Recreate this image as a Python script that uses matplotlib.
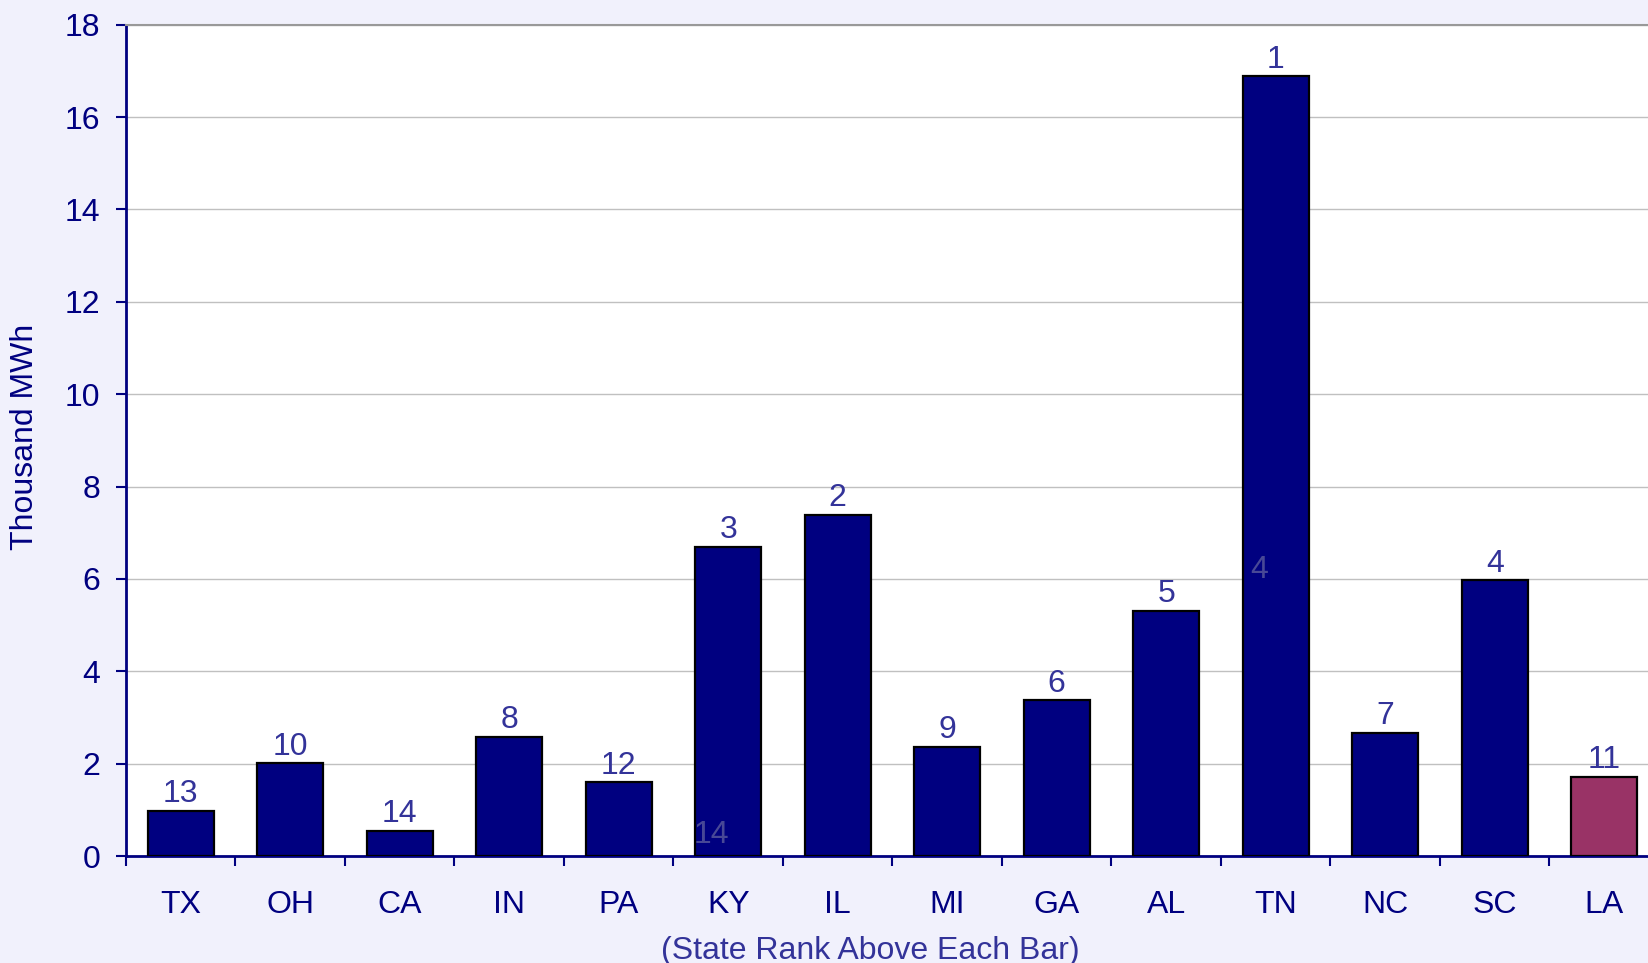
import matplotlib
matplotlib.use("Agg")
import matplotlib.pyplot as plt
import numpy as np

states = ['TX', 'OH', 'CA', 'IN', 'PA', 'KY', 'IL', 'MI', 'GA', 'AL', 'TN', 'NC', 'SC', 'LA']
values = [0.98, 2.01, 0.55, 2.58, 1.60, 6.70, 7.39, 2.37, 3.38, 5.31, 16.89, 2.67, 5.97, 1.72]
ranks  = ['13', '10', '14', '8', '12', '3', '2', '9', '6', '5', '1', '7', '4', '11']
# stray labels left over in the source chart (state index, value, text)
stray_idx  = [5, 10]
stray_val  = [0.45, 6.2]
stray_text = ['14', '4']

NAVY = '#000080'
LABEL = '#333399'
FS = 23
plt.rcParams['font.family'] = ['Liberation Sans', 'DejaVu Sans']

fig = plt.figure(figsize=(16.48, 9.63), dpi=100, facecolor='#F1F1FC')
ax = fig.add_axes([126/1648, 107/963, 1533/1648, 831.3/963])
ax.set_facecolor('white')

x = np.arange(len(states))
colors = [NAVY] * (len(states) - 1) + ['#993366']
ax.bar(x, values, width=0.6, color=colors, edgecolor='black', linewidth=1.6, zorder=3)

for xi, v, r in zip(x, values, ranks):
    ax.annotate(r, (xi, v), xytext=(0, 1), textcoords='offset points',
                ha='center', va='bottom', fontsize=FS, color=LABEL, zorder=4)

for i, v, t in zip(stray_idx, stray_val, stray_text):
    ax.text(i - 0.15, v, t, ha='center', va='center', fontsize=FS,
            color='#55559a', alpha=0.85, zorder=4)

ax.set_xlim(-0.5, len(states) - 0.5)
ax.set_ylim(0, 18)
ax.set_yticks(np.arange(0, 19, 2))
ax.yaxis.grid(True, color='#C0C0C0', linewidth=1.0, zorder=0)
ax.set_axisbelow(True)

# category boundaries get the ticks, centres get the labels
ax.set_xticks(np.arange(-0.5, len(states), 1.0))
ax.set_xticklabels([])
ax.set_xticks(x, minor=True)
ax.set_xticklabels(states, minor=True)
ax.tick_params(axis='x', which='major', direction='out', length=7.5, width=1.5, color=NAVY)
ax.tick_params(axis='x', which='minor', length=0, pad=24.5, labelsize=FS, labelcolor=NAVY)
ax.tick_params(axis='y', direction='out', length=7.5, width=1.5, color=NAVY,
               labelsize=FS, labelcolor=NAVY, pad=11)

for side in ['left', 'bottom']:
    ax.spines[side].set_color(NAVY)
    ax.spines[side].set_linewidth(2)
ax.spines['right'].set_visible(False)
ax.spines['top'].set_color('#999999')
ax.spines['top'].set_linewidth(1.5)

fig.text(25/1648, 1 - 437/963, 'Thousand MWh', rotation=90, ha='center', va='center',
         fontsize=FS, color=NAVY)
fig.text(870/1648, 1 - 951/963, '(State Rank Above Each Bar)', ha='center', va='center',
         fontsize=FS, color=LABEL)

fig.savefig('out.png', dpi=100, facecolor=fig.get_facecolor())
